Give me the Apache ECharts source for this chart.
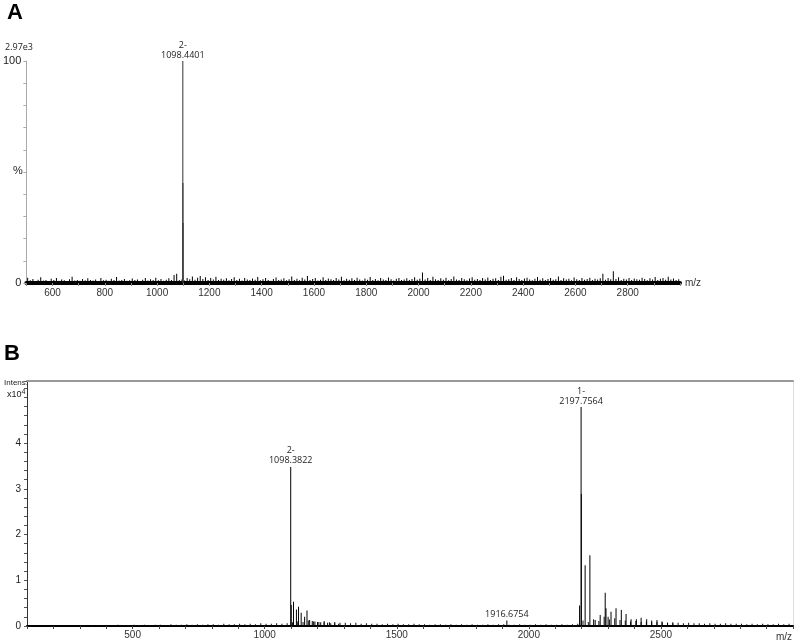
<!DOCTYPE html>
<html>
<head>
<meta charset="utf-8">
<script src="https://cdn.jsdelivr.net/npm/echarts@6/dist/echarts.min.js"></script>
<style>
  html, body { margin: 0; padding: 0; background: #fff; }
  #chart { width: 796px; height: 642px; }
</style>
</head>
<body>
<div id="chart"></div>
<script>
// panel A : relative intensity (%), m/z
var peaksA = [
  [1098.4401, 100, '2-\n1098.4401'],
  [1098.94, 45],
  [1099.44, 27]
]
// noise floor of panel A, one value every 10 m/z starting at 505
var noiseAStart = 505
var noiseAStep = 10
var noiseA = [
  2.4,1.2,1.8,0.9,1.5,2.6,1.1,1.4,0.8,1.9,1.3,2.2,1.0,1.6,1.2,0.9,1.7,2.8,1.1,1.3,1.0,1.8,1.2,2.1,1.4,
  1.1,1.6,0.9,2.3,1.2,1.5,1.0,1.9,1.3,2.7,1.1,1.4,1.8,1.0,1.2,2.0,1.3,1.6,0.9,1.5,2.2,1.1,1.7,1.3,2.4,
  1.2,1.8,1.0,1.5,2.1,1.3,3.6,4.2,1.4,1.6,1.1,2.3,1.7,2.9,1.5,2.4,3.1,1.8,2.6,1.4,2.2,1.6,2.8,1.3,1.9,
  1.5,2.1,1.2,1.8,2.6,1.4,1.9,1.1,2.3,1.6,1.3,2.0,1.5,2.7,1.2,1.7,2.2,1.4,1.0,1.8,2.5,1.3,1.6,2.1,1.2,
  1.7,2.9,1.4,1.9,1.2,2.4,1.6,3.2,1.3,1.8,2.2,1.1,1.5,2.6,1.4,2.0,1.7,1.3,2.3,1.6,2.8,1.2,1.9,1.5,2.1,
  1.3,2.4,1.6,1.1,2.0,1.5,2.7,1.4,1.8,1.2,2.2,1.6,1.3,2.5,1.7,1.1,1.9,2.3,1.4,1.6,2.1,1.3,1.8,2.6,1.5,
  1.9,4.7,1.6,2.2,1.4,2.8,1.7,1.3,2.1,1.5,2.4,1.2,1.8,2.9,1.6,1.4,2.3,1.7,1.2,2.0,2.6,1.5,1.8,1.3,2.2,
  1.6,2.5,1.3,1.9,2.1,1.4,2.8,3.3,1.5,1.7,2.2,1.3,2.6,1.8,1.4,2.0,2.4,1.6,1.2,1.9,2.7,1.5,2.1,1.3,1.8,
  2.3,1.5,1.7,2.9,1.4,2.1,1.6,1.9,1.2,2.5,1.7,1.3,2.2,1.5,1.8,2.4,1.4,1.9,1.6,2.1,4.2,1.5,2.3,1.7,5.3,
  1.8,2.6,1.4,1.9,1.6,2.2,1.3,2.0,1.7,1.5,2.4,1.8,1.2,2.1,1.6,2.7,1.4,1.9,2.3,1.5,2.8,1.6,2.0,1.3,1.7
]

// panel B : intensity (x10^4), m/z
var peaksB = [
  [1098.3822, 3.48, '2-\n1098.3822'],
  [1100.4, 0.46], [1109, 0.53], [1120, 0.36], [1128, 0.42], [1138, 0.29],
  [1151, 0.2], [1160, 0.34], [1170, 0.13], [1180, 0.11], [1190, 0.1],
  [1200, 0.09], [1212, 0.08], [1225, 0.08], [1238, 0.07], [1250, 0.06],
  [1265, 0.06], [1280, 0.05],
  [1916.6754, 0.12, '1916.6754'],
  [2192, 0.45], [2197.7564, 4.79, '1-\n2197.7564'], [2198.76, 2.89],
  [2213, 1.33], [2231, 1.55], [2251, 0.13], [2270, 0.24], [2289, 0.73],
  [2292, 0.39], [2300, 0.2], [2311, 0.31], [2330, 0.39], [2350, 0.35],
  [2368, 0.26], [2387, 0.15], [2407, 0.15], [2425, 0.18], [2446, 0.15],
  [2465, 0.12], [2485, 0.13], [2504, 0.1], [2525, 0.07], [2545, 0.06]
]
// noise floor of panel B, one value every 20 m/z starting at 305
var noiseBStart = 305
var noiseBStep = 20
var noiseB = [
  0.01,0.01,0.02,0.01,0.02,0.02,0.01,0.03,0.02,0.02,0.03,0.02,0.03,0.02,0.03,
  0.03,0.02,0.04,0.03,0.03,0.04,0.03,0.04,0.03,0.04,0.04,0.03,0.05,0.04,0.04,
  0.05,0.04,0.05,0.04,0.06,0.05,0.05,0.06,0.05,0.06,
  0.08,0.1,0.09,0.12,0.1,0.09,0.11,0.08,0.09,0.07,
  0.07,0.06,0.07,0.05,0.06,0.05,0.05,0.04,0.05,0.04,0.05,0.04,0.04,0.05,0.04,
  0.04,0.03,0.04,0.04,0.03,0.04,0.03,0.04,0.03,0.04,0.03,0.03,0.04,0.03,0.04,
  0.04,0.03,0.03,0.04,0.03,0.03,0.04,0.03,0.04,0.03,0.03,0.04,0.03,0.04,0.05,
  0.12,0.09,0.15,0.11,0.2,0.14,0.17,0.13,0.12,0.1,0.11,0.09,0.1,0.08,0.09,
  0.08,0.07,0.08,0.07,0.06,0.07,0.06,0.06,0.05,0.06,0.05,0.05,0.06,0.05,0.05,
  0.05,0.04,0.05,0.04,0.05,0.04,0.04,0.05,0.04,0.05
]

function toItems(list) {
  return list.map(function (p) {
    var item = { value: [p[0], p[1]] }
    if (p[2]) {
      item.label = {
        show: true, position: 'top', distance: 1, formatter: p[2],
        fontSize: 9, lineHeight: 10, color: '#222', fontFamily: 'Open Sans'
      }
    }
    return item
  })
}
function noiseItems(vals, start, step) {
  return vals.map(function (v, i) { return [start + i * step, v] })
}

var font = 'Liberation Sans'
var chart = echarts.init(document.getElementById('chart'))
var option = {
  animation: false,
  backgroundColor: '#fff',
  textStyle: { fontFamily: font },
  grid: [
    { left: 26, right: 116, top: 61, bottom: 359 },
    { left: 27, right: 2, top: 381, bottom: 16 }
  ],
  xAxis: [
    {
      type: 'value', gridIndex: 0, min: 500, max: 3000, interval: 100,
      name: 'm/z', nameLocation: 'end', nameGap: 5,
      nameTextStyle: { fontSize: 10, color: '#333' },
      axisLine: { lineStyle: { color: '#000', width: 4 } },
      axisTick: { length: 3, lineStyle: { color: '#888' } },
      axisLabel: {
        fontSize: 10, color: '#333', margin: 5,
        formatter: function (v) { return (v % 200 === 0 && v > 500 && v < 3000) ? v : '' }
      },
      splitLine: { show: false }
    },
    {
      type: 'value', gridIndex: 1, min: 100, max: 3000, interval: 100,
      axisLine: { lineStyle: { color: '#000', width: 2 } },
      axisTick: { length: 3, lineStyle: { color: '#444' } },
      axisLabel: {
        fontSize: 10, color: '#333', margin: 4,
        formatter: function (v) { return (v % 500 === 0 && v < 3000) ? v : '' }
      },
      splitLine: { show: false }
    },
    {
      type: 'value', gridIndex: 1, position: 'top', min: 100, max: 3000,
      axisLine: { onZero: false, lineStyle: { color: '#999', width: 2 } },
      axisTick: { show: false }, axisLabel: { show: false }, splitLine: { show: false }
    }
  ],
  yAxis: [
    {
      type: 'value', gridIndex: 0, min: 0, max: 100, interval: 10,
      axisLine: { show: true, lineStyle: { color: '#aaa' } },
      axisTick: { show: true, length: 3, lineStyle: { color: '#aaa' } },
      axisLabel: {
        fontSize: 11, color: '#222', margin: 5,
        formatter: function (v) { return (v === 0 || v === 100) ? v : '' }
      },
      splitLine: { show: false }
    },
    {
      type: 'value', gridIndex: 1, min: 0, max: 53600, interval: 2000,
      axisLine: { show: true, lineStyle: { color: '#333' } },
      axisTick: { show: true, length: 3, lineStyle: { color: '#555' } },
      axisLabel: {
        fontSize: 10, color: '#222', margin: 6,
        formatter: function (v) { return (v % 10000 === 0 && v < 50000) ? v / 10000 : '' }
      },
      splitLine: { show: false }
    },
    {
      type: 'value', gridIndex: 1, position: 'right', min: 0, max: 53600,
      axisLine: { show: true, onZero: false, lineStyle: { color: '#ddd' } },
      axisTick: { show: false }, axisLabel: { show: false }, splitLine: { show: false }
    }
  ],
  graphic: [
    { type: 'text', left: 7, top: 2, style: { text: 'A', font: 'bold 22px "Liberation Sans"', fill: '#000' } },
    { type: 'text', left: 4, top: 343, style: { text: 'B', font: 'bold 22px "Liberation Sans"', fill: '#000' } },
    { type: 'text', left: 5, top: 43, style: { text: '2.97e3', font: '9px "Open Sans"', fill: '#222' } },
    { type: 'text', left: 13, top: 165, style: { text: '%', font: '11px "Liberation Sans"', fill: '#222' } },
    { type: 'text', left: 4, top: 379, style: { text: 'Intens.', font: '8px "Liberation Sans"', fill: '#222' } },
    {
      type: 'text', left: 7, top: 389,
      style: {
        text: 'x10{s|4}', font: '9px "Liberation Sans"', fill: '#222',
        rich: { s: { fontSize: 7, verticalAlign: 'top', padding: [0, 0, 4, 0] } }
      }
    },
    { type: 'text', right: 4, bottom: 0, style: { text: 'm/z', font: '10px "Liberation Sans"', fill: '#333' } }
  ],
  series: [
    {
      name: 'A noise', type: 'bar', xAxisIndex: 0, yAxisIndex: 0,
      barWidth: 1, barGap: '-100%', itemStyle: { color: '#000' },
      data: noiseItems(noiseA, noiseAStart, noiseAStep)
    },
    {
      name: 'A peaks', type: 'bar', xAxisIndex: 0, yAxisIndex: 0,
      barWidth: 1, barGap: '-100%', itemStyle: { color: '#333' },
      data: toItems(peaksA)
    },
    {
      name: 'B noise', type: 'bar', xAxisIndex: 1, yAxisIndex: 1,
      barWidth: 1, barGap: '-100%', itemStyle: { color: '#111' },
      data: noiseItems(noiseB.map(function (v) { return v * 10000 }), noiseBStart, noiseBStep)
    },
    {
      name: 'B peaks', type: 'bar', xAxisIndex: 1, yAxisIndex: 1,
      barWidth: 1, barGap: '-100%', itemStyle: { color: '#000' },
      data: toItems(peaksB.map(function (p) { return [p[0], p[1] * 10000, p[2]] }))
    }
  ]
}
chart.setOption(option)
</script>
</body>
</html>
